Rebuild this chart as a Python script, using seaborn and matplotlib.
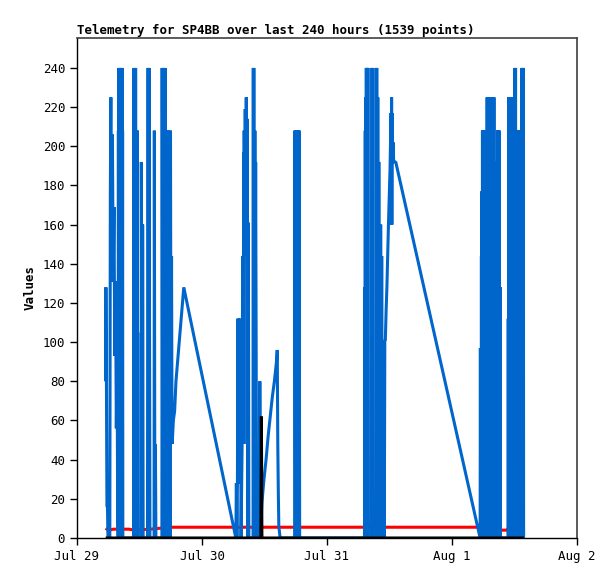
import pandas as pd
import numpy as np
import matplotlib
matplotlib.use("Agg")
import matplotlib.pyplot as plt
import matplotlib.dates as mdates
import seaborn as sns

# Hours since Jul 29 00:00 and values
blue_hours = [
    # Jul 29 morning
    5.5, 5.55, 5.65, 5.75, 5.85, 5.95, 6.3, 6.4, 6.5, 6.55, 6.6, 6.7, 6.8, 6.95, 7.1, 7.25, 7.4, 7.55, 7.7, 7.8,
    7.9, 7.95, 8.0, 8.05, 8.1, 8.15, 8.2, 8.25, 8.3, 8.35, 8.4, 8.45, 8.5, 8.55, 8.6, 8.65, 8.7, 8.75, 8.8, 8.85,
    10.9, 10.95, 11.0, 11.05, 11.1, 11.15, 11.2, 11.25, 11.3, 11.35, 11.4, 11.45, 11.5, 11.55, 11.6, 11.65, 11.7,
    12.3, 12.35, 12.45, 12.5, 12.55, 12.6, 12.65, 12.7,
    13.6, 13.65, 13.7, 13.75, 13.8, 13.85, 13.9, 14.0,
    14.8, 14.85, 14.95, 15.05, 15.15, 15.3,
    16.3, 16.35, 16.45, 16.55, 16.65, 16.75, 16.85, 16.95, 17.05, 17.15, 17.25, 17.35, 17.45, 17.55, 17.65,
    17.75, 17.85, 17.95, 18.05, 18.15, 18.25, 18.35,
    18.5, 18.75, 19.0, 19.25, 19.5, 19.75, 20.0, 20.25, 20.5,
    # Jul 30
    30.5, 30.6, 30.7, 30.8, 30.9, 31.0, 31.05, 31.1, 31.2, 31.3, 31.4, 31.5,
    31.7, 31.8, 31.9, 32.0, 32.05, 32.1, 32.2, 32.3, 32.4, 32.5, 32.6, 32.7, 32.8, 32.9, 33.0, 33.1,
    33.8, 33.85, 33.9, 33.95, 34.0, 34.05, 34.1, 34.15, 34.2, 34.3, 34.4, 34.5,
    35.05, 35.1, 35.2, 35.5, 35.9, 36.3, 36.7, 37.1, 37.5, 37.9, 38.3, 38.45, 38.55, 38.65, 38.75, 39.0,
    41.8, 41.85, 41.95, 42.05, 42.15, 42.25, 42.35, 42.45, 42.55, 42.65, 42.75, 42.85,
    # Jul 31
    55.2, 55.25, 55.3, 55.35, 55.4, 55.45, 55.5, 55.55, 55.6, 55.65, 55.7, 55.75, 55.8, 55.85, 55.9, 56.0,
    56.6, 56.65, 56.7, 56.75, 56.8, 56.9,
    57.4, 57.45, 57.5, 57.55, 57.6, 57.65, 57.7, 57.75, 57.8, 57.85, 57.9, 57.95, 58.0, 58.1, 58.2, 58.3,
    58.4, 58.5, 58.6, 58.7, 58.8, 58.9, 59.0, 59.1,
    59.2, 59.35, 59.5, 59.65, 59.8, 59.95, 60.1, 60.2, 60.3, 60.35, 60.4, 60.45, 60.5, 60.6, 60.7, 60.8, 61.2,
    # Aug 1
    77.4, 77.45, 77.5, 77.55, 77.6, 77.65, 77.7, 77.75, 77.8, 77.85, 77.9, 77.95, 78.0, 78.05, 78.1, 78.15,
    78.2, 78.25, 78.3, 78.35, 78.4, 78.45, 78.5, 78.55, 78.6, 78.65, 78.7, 78.75, 78.8, 78.85, 78.9, 78.95,
    79.0, 79.05, 79.1, 79.15, 79.2, 79.25, 79.3, 79.35, 79.4, 79.45, 79.5, 79.55, 79.6, 79.65, 79.7, 79.75,
    79.8, 79.85, 79.9, 79.95, 80.0, 80.05, 80.1, 80.15, 80.2, 80.25, 80.3, 80.35, 80.4, 80.7, 80.75, 80.8,
    80.85, 80.9, 80.95, 81.0, 81.05, 81.1, 81.15, 81.2, 81.25, 81.3,
    82.75, 82.8, 82.85, 82.9, 82.95, 83.0, 83.05, 83.1, 83.15, 83.2, 83.25, 83.3, 83.35, 83.4, 83.45, 83.5,
    83.55, 83.6, 83.65, 83.7, 83.75, 83.8, 83.85, 83.9, 83.95, 84.0, 84.05, 84.1, 84.15, 84.2, 84.25, 84.3,
    84.35, 84.4, 84.45, 84.5, 84.55, 84.6, 84.65, 84.7, 84.75, 84.8, 84.85, 84.9, 84.95, 85.0, 85.05, 85.1,
    85.15, 85.2, 85.25, 85.3, 85.35, 85.4, 85.45, 85.5, 85.55, 85.6, 85.65, 85.7, 85.75,
]
blue_values = [
    80, 128, 80, 16, 16, 0, 0, 176, 225, 176, 206, 169, 206, 131, 169, 93, 131, 56, 93, 18,
    0, 208, 0, 240, 0, 208, 0, 240, 0, 208, 0, 240, 0, 208, 0, 240, 0, 208, 0, 0,
    0, 240, 0, 225, 24, 215, 0, 240, 105, 208, 0, 208, 24, 208, 0, 105, 0,
    0, 192, 66, 160, 0, 160, 66, 0,
    0, 240, 0, 144, 0, 240, 144, 0,
    0, 208, 0, 48, 0, 0,
    0, 240, 0, 240, 0, 192, 0, 240, 0, 208, 0, 208, 0, 208, 0,
    192, 0, 208, 48, 144, 48, 52,
    60, 65, 80, 88, 96, 104, 112, 120, 128,
    0, 28, 0, 28, 112, 28, 84, 28, 112, 28, 84, 0,
    48, 144, 48, 197, 48, 208, 144, 219, 171, 225, 161, 214, 0, 161, 0, 0,
    0, 240, 0, 240, 0, 208, 0, 208, 96, 192, 96, 0,
    0, 80, 0, 18, 30, 40, 52, 62, 72, 80, 90, 96, 48, 24, 6, 0,
    0, 208, 0, 208, 0, 208, 0, 208, 0, 208, 0, 0,
    0, 128, 0, 208, 0, 225, 0, 240, 0, 240, 0, 240, 0, 240, 0, 0,
    0, 240, 0, 240, 0, 0,
    0, 240, 0, 240, 0, 225, 0, 225, 0, 192, 0, 192, 0, 160, 0, 160,
    0, 144, 0, 101, 0, 87, 0, 101,
    101, 116, 128, 145, 160, 174, 188, 202, 217, 160, 225, 160, 217, 192, 202, 192, 192,
    0, 97, 0, 97, 0, 144, 0, 177, 0, 208, 0, 208, 0, 208, 0, 208,
    0, 208, 0, 208, 0, 208, 0, 208, 0, 160, 0, 225, 0, 225, 0, 225,
    0, 225, 0, 225, 0, 225, 0, 112, 0, 80, 0, 80, 0, 40, 0, 40,
    0, 225, 0, 225, 0, 225, 0, 192, 0, 192, 0, 192, 0, 0, 208, 0,
    208, 0, 208, 0, 208, 0, 128, 0, 128, 0,
    0, 112, 0, 225, 0, 225, 0, 225, 0, 225, 0, 225, 0, 225, 0, 225,
    0, 160, 0, 160, 0, 160, 0, 208, 0, 208, 0, 240, 0, 240, 0, 208,
    0, 208, 0, 208, 0, 208, 0, 208, 0, 208, 0, 208, 0, 208, 0, 208,
    0, 208, 0, 208, 0, 240, 0, 208, 0, 240, 0, 240, 0,
]

red_hours = [5.5, 6.0, 7.0, 10.0, 11.0, 14.0, 16.0, 17.5, 32.0, 56.2, 56.3, 56.5, 80.5, 80.8, 82.5, 82.8, 85.8]
red_values = [5, 4, 4.5, 4.5, 4, 4.5, 5, 5.5, 5.5, 5.5, 6.5, 5.5, 5.5, 4, 4, 5, 5]

black_hours = [5.5, 35.3, 35.4, 35.5, 85.8]
black_values = [0, 0, 62, 0, 0]

start = pd.Timestamp("2023-07-29")
def to_frame(hours, values):
    return pd.DataFrame({"time": start + pd.to_timedelta(hours, unit="h"), "value": values})

blue_df = to_frame(blue_hours, blue_values)
red_df = to_frame(red_hours, red_values)
black_df = to_frame(black_hours, black_values)

sns.set_style("white")
plt.rcParams["font.family"] = ["DejaVu Sans Mono"]
plt.rcParams["text.color"] = "black"
plt.rcParams["axes.labelcolor"] = "black"
plt.rcParams["xtick.color"] = "black"
plt.rcParams["ytick.color"] = "black"
plt.rcParams["lines.solid_joinstyle"] = "bevel"
plt.rcParams["lines.solid_capstyle"] = "butt"

fig = plt.figure(figsize=(6.15, 5.79), dpi=100)
ax = fig.add_axes([77 / 615, 41 / 579, 500 / 615, 500 / 579])

line_kw = dict(ax=ax, linewidth=2.2, estimator=None, sort=False)
sns.lineplot(data=red_df, x="time", y="value", color="#ff0000", **line_kw)
sns.lineplot(data=blue_df, x="time", y="value", color="#0066cc", **line_kw)
sns.lineplot(data=black_df, x="time", y="value", color="#000000", **line_kw)
for ln in ax.get_lines():
    ln.set_solid_joinstyle("bevel")
    ln.set_solid_capstyle("butt")

ax.set_xlim(start, start + pd.Timedelta(days=4))
ax.set_ylim(0, 255.3)
ax.set_yticks(range(0, 241, 20))
ax.xaxis.set_major_locator(mdates.DayLocator())
ax.xaxis.set_major_formatter(mdates.DateFormatter("%b %-d"))

ax.tick_params(axis="both", direction="out", length=5, width=1, colors="black",
               labelsize=9, left=True, bottom=True)
ax.set_xlabel("")
ax.set_ylabel("Values", fontsize=9, fontweight="bold")
ax.set_title("Telemetry for SP4BB over last 240 hours (1539 points)",
             fontsize=9, fontweight="bold", loc="left", pad=3, color="black")

for side in ["left", "bottom"]:
    ax.spines[side].set_color("black")
    ax.spines[side].set_linewidth(1)
for side in ["top", "right"]:
    ax.spines[side].set_color("#404040")
    ax.spines[side].set_linewidth(1.2)

fig.savefig("out.png", dpi=100)
